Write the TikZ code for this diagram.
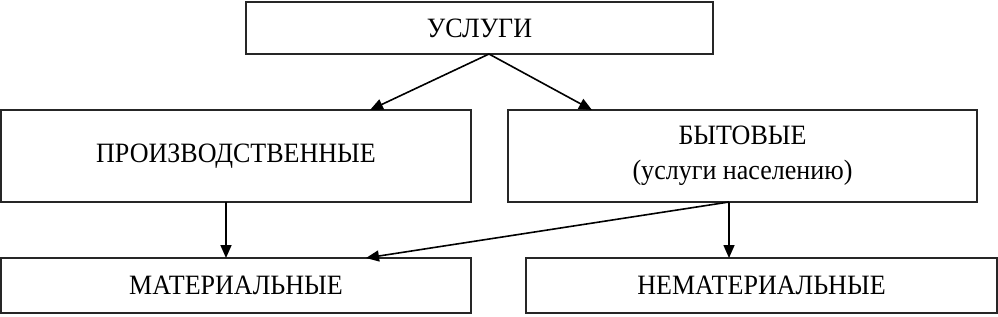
\documentclass[tikz,border=0pt]{standalone}
\usepackage{fontspec}
\setmainfont{Liberation Serif}[FakeStretch=0.93]
\usetikzlibrary{arrows.meta}
\begin{document}
\begin{tikzpicture}[x=1pt,y=-1pt,
  box/.style={draw=black!85,line width=1.6pt,fill=white,inner sep=0pt,outer sep=0pt,
    font=\fontsize{28}{35}\selectfont,align=center},
  arr/.style={line width=1.6pt,-{Triangle[length=13pt,width=11pt]}}]
\useasboundingbox (0,0) rectangle (998,316);
\node[box,minimum width=467pt,minimum height=52pt] (top) at (479.5,28) {УСЛУГИ};
\node[box,minimum width=470pt,minimum height=92pt] (prod) at (236,156) {ПРОИЗВОДСТВЕННЫЕ};
\node[box,minimum width=469pt,minimum height=92pt] (byt) at (742.5,156) {БЫТОВЫЕ\\(услуги населению)};
\node[box,minimum width=470pt,minimum height=55pt] (mat) at (236,285.5) {МАТЕРИАЛЬНЫЕ};
\node[box,minimum width=471pt,minimum height=55pt] (nemat) at (761.5,285.5) {НЕМАТЕРИАЛЬНЫЕ};
\draw[arr] ([xshift=9.5pt]top.south) -- ([xshift=134pt]prod.north);
\draw[arr] ([xshift=9.5pt]top.south) -- ([xshift=-150.5pt]byt.north);
\draw[arr] ([xshift=-10pt]prod.south) -- ([xshift=-10pt]mat.north);
\draw[arr] ([xshift=-13.5pt]byt.south) -- ([xshift=-13.5pt]byt.south |- nemat.north);
\draw[arr] ([xshift=-13.5pt]byt.south) -- ([xshift=130pt]mat.north);
\end{tikzpicture}
\end{document}
